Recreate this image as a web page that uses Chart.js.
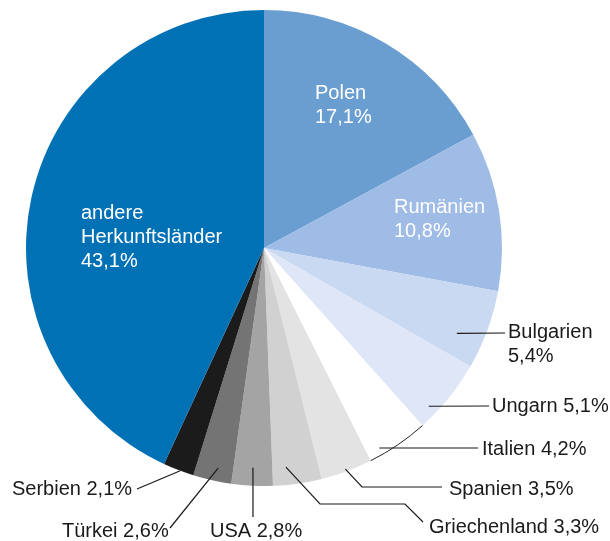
<!DOCTYPE html>
<html lang="de">
<head>
<meta charset="utf-8">
<title>Herkunftsländer</title>
<script src="https://cdn.jsdelivr.net/npm/chart.js@4.4.1/dist/chart.umd.min.js"></script>
<style>
  html, body { margin: 0; padding: 0; background: #fff; }
  #wrap { width: 610px; height: 541px; }
</style>
</head>
<body>
<div id="wrap"><canvas id="pieChart" width="610" height="541"></canvas></div>
<script>
// Daten
const countries = ['Polen', 'Rumänien', 'Bulgarien', 'Ungarn', 'Italien', 'Spanien',
    'Griechenland', 'USA', 'Türkei', 'Serbien', 'andere Herkunftsländer'];
const shares = [17.1, 10.8, 5.4, 5.1, 4.2, 3.5, 3.3, 2.8, 2.6, 2.1, 43.1];
const sliceColors = ['#6A9ED1', '#9EBCE6', '#C9D9F2', '#DEE6F7', '#FFFFFF', '#E3E3E3',
    '#D1D1D1', '#A4A4A4', '#747474', '#1B1B1B', '#0071B5'];

const FONT = '20px "Liberation Sans", Arial, Helvetica, sans-serif';

function fmt(v) {
    return v.toFixed(1).replace('.', ',') + '%';
}

// Beschriftungen: innen (weiß, mehrzeilig) oder außen mit Führungslinie
// t = Anteil innerhalb des Winkels, f = Anteil des Radius für den Linienstart
const labelLayout = {
    'Polen':        { inside: true, x: 315, y: 99 },
    'Rumänien':     { inside: true, x: 394, y: 213 },
    'andere Herkunftsländer': { inside: true, x: 81, y: 219, lines: ['andere', 'Herkunftsländer'] },
    'Bulgarien':    { x: 508, y: 338, twoLine: true, t: 0.69, f: 0.886, path: [[505, 333]] },
    'Ungarn':       { x: 492, y: 412, t: 0.76, f: 0.96, path: [[489, 406]] },
    'Italien':      { x: 482, y: 455, t: 0.78, f: 0.97, path: [[478, 448]] },
    'Spanien':      { x: 449, y: 495, t: 0.51, f: 0.99, path: [[362, 487], [442, 487]] },
    'Griechenland': { x: 429, y: 533, t: 0.70, f: 0.925, path: [[320, 504], [405, 504], [423, 522]] },
    'USA':          { x: 210, y: 537, t: 0.50, f: 0.925, path: [[253, 517]] },
    'Türkei':       { x: 62,  y: 537, t: 0.41, f: 0.945, path: [[170, 528]] },
    'Serbien':      { x: 12,  y: 495, t: 0.44, f: 1.0,  path: [[137, 489]] }
};

const labelPlugin = {
    id: 'pieLabels',
    afterDatasetsDraw(chart) {
        const ctx = chart.ctx;
        const arcs = chart.getDatasetMeta(0).data;
        ctx.save();
        ctx.font = FONT;
        ctx.textBaseline = 'alphabetic';
        ctx.textAlign = 'left';

        // schwarze Außenkante des weißen Segments (Italien)
        const it = arcs[countries.indexOf('Italien')];
        ctx.beginPath();
        ctx.arc(it.x, it.y, it.outerRadius, it.startAngle, it.endAngle);
        ctx.strokeStyle = '#222';
        ctx.lineWidth = 1;
        ctx.stroke();

        countries.forEach((name, i) => {
            const lay = labelLayout[name];
            const arc = arcs[i];
            if (!lay) return;
            if (lay.inside) {
                ctx.fillStyle = '#FFFFFF';
                const lines = (lay.lines || [name]).concat([fmt(shares[i])]);
                lines.forEach((ln, k) => ctx.fillText(ln, lay.x, lay.y + k * 24));
                return;
            }
            const a = arc.startAngle + lay.t * (arc.endAngle - arc.startAngle);
            const r = lay.f * arc.outerRadius;
            ctx.beginPath();
            ctx.moveTo(arc.x + r * Math.cos(a), arc.y + r * Math.sin(a));
            lay.path.forEach(p => ctx.lineTo(p[0], p[1]));
            ctx.strokeStyle = '#1a1a1a';
            ctx.lineWidth = 1.2;
            ctx.stroke();

            ctx.fillStyle = '#1a1a1a';
            if (lay.twoLine) {
                ctx.fillText(name, lay.x, lay.y);
                ctx.fillText(fmt(shares[i]), lay.x, lay.y + 24);
            } else {
                ctx.fillText(name + ' ' + fmt(shares[i]), lay.x, lay.y);
            }
        });
        ctx.restore();
    }
};

const ctx = document.getElementById('pieChart').getContext('2d');
new Chart(ctx, {
    type: 'pie',
    data: {
        labels: countries,
        datasets: [{
            data: shares,
            backgroundColor: sliceColors,
            borderWidth: 0,
            hoverOffset: 0,
            offset: 0
        }]
    },
    options: {
        responsive: false,
        animation: false,
        devicePixelRatio: 1,
        layout: { padding: { left: 26, top: 10, right: 108, bottom: 55 } },
        plugins: {
            legend: { display: false },
            tooltip: { enabled: false }
        }
    },
    plugins: [labelPlugin]
});
</script>
</body>
</html>
